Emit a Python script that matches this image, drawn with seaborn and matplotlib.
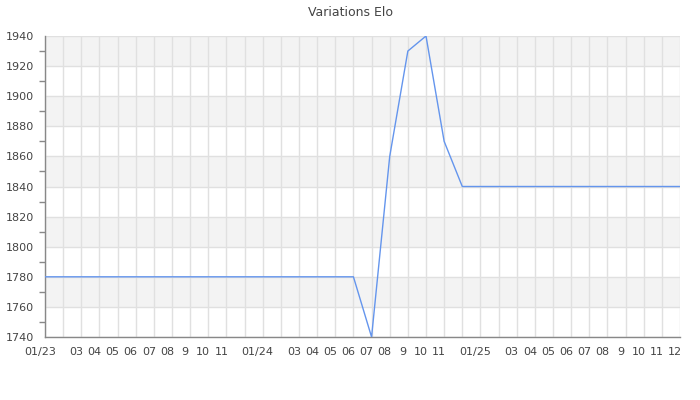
import numpy as np
import pandas as pd
import matplotlib
matplotlib.use("Agg")
import matplotlib.pyplot as plt
import matplotlib.transforms as mtransforms
import seaborn as sns
from matplotlib.ticker import MultipleLocator

# monthly Elo values, 01/2023 .. 12/2025
elo = [1780] * 18 + [1740, 1860, 1930, 1940, 1870] + [1840] * 13
month_labels = [
    "01/23", "", "03", "04", "05", "06", "07", "08", "9", "10", "11", "",
    "01/24", "", "03", "04", "05", "06", "07", "08", "9", "10", "11", "",
    "01/25", "", "03", "04", "05", "06", "07", "08", "9", "10", "11", "12",
]

df = pd.DataFrame({"month": np.arange(len(elo)), "elo": elo})

sns.set_theme(style="white")
plt.rcParams["font.family"] = ["DejaVu Sans"]

fig = plt.figure(figsize=(7, 4), dpi=100)
ax = fig.add_axes([45 / 700, 63 / 400, 635 / 700, 301 / 400])

# alternating horizontal bands
for i, y0 in enumerate(range(1740, 1940, 20)):
    if i % 2 == 1:
        ax.axhspan(y0, y0 + 20, color="#f3f3f3", zorder=0, lw=0)

sns.lineplot(data=df, x="month", y="elo", ax=ax, color="#6495ed", lw=1, zorder=3)

ax.set_xlim(0, len(elo) - 1)
ax.set_ylim(1740, 1940)
ax.set_xticks(df["month"])
ax.set_xticklabels(month_labels)
ax.yaxis.set_major_locator(MultipleLocator(20))
ax.yaxis.set_minor_locator(MultipleLocator(10))
ax.grid(True, which="major", color="#e0e0e0", lw=1, zorder=1)
ax.set_axisbelow(True)

ax.tick_params(axis="x", length=0, pad=7, labelsize=8, colors="#444444")
ax.tick_params(axis="y", which="major", length=5, width=1, color="#888888",
               labelsize=8, labelcolor="#444444", pad=3)
ax.tick_params(axis="y", which="minor", left=True, length=4, width=1, color="#888888")

# x labels sit a little left of their gridline in the original
shift = mtransforms.ScaledTranslation(-5 / 100, 0, fig.dpi_scale_trans)
for lbl in ax.get_xticklabels():
    lbl.set_transform(lbl.get_transform() + shift)

for side in ["top", "right"]:
    ax.spines[side].set_visible(False)
for side in ["left", "bottom"]:
    ax.spines[side].set_color("#888888")
    ax.spines[side].set_linewidth(1)

ax.set_xlabel("")
ax.set_ylabel("")
fig.text(0.5, 0.97, "Variations Elo", ha="center", va="center", fontsize=9, color="#444444")

fig.savefig("out.png", dpi=100)
